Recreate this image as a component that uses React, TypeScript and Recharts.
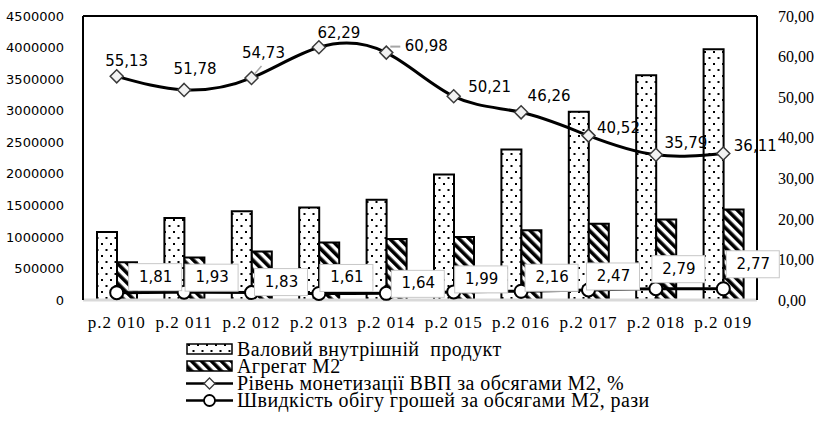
import React from "react";
import {
  Bar,
  ComposedChart,
  LabelList,
  Legend,
  Line,
  ReferenceLine,
  XAxis,
  YAxis,
} from "recharts";

// ВВП та М2 (млн грн), рівень монетизації (%), швидкість обігу (рази)
const years = ["р.2 010", "р.2 011", "р.2 012", "р.2 013", "р.2 014", "р.2 015", "р.2 016", "р.2 017", "р.2 018", "р.2 019"];
const gdp = [1079346, 1299991, 1404669, 1465198, 1586915, 1988544, 2385367, 2983882, 3560596, 3974564];
const m2 = [596300, 673600, 767600, 910100, 967600, 999300, 1104300, 1208000, 1276200, 1434900];
const monetization = [55.13, 51.78, 54.73, 62.29, 60.98, 50.21, 46.26, 40.52, 35.79, 36.11];
const velocity = [1.81, 1.93, 1.83, 1.61, 1.64, 1.99, 2.16, 2.47, 2.79, 2.77];
const leftTicks = [0, 500000, 1000000, 1500000, 2000000, 2500000, 3000000, 3500000, 4000000, 4500000];
const rightTicks = [0, 10, 20, 30, 40, 50, 60, 70];

// label offsets (px) from each point, as placed in the original
const monShift = [[10, -15], [11, -21], [12, -25], [20, -14], [40, -7], [36, -9], [28, -16], [30, -8], [30, -12], [32, -7]];
const velShift = [[39, -16], [28, -15], [30, -11], [28, -16], [32, -10], [28, -13], [31, -14], [25, -14], [23, -20], [30, -25]];

const SERIF = "'Liberation Serif', 'Times New Roman', serif";
const SANS = "'DejaVu Sans', Verdana, sans-serif";

const rows = years.map((year, i) => ({
  year,
  gdp: gdp[i],
  m2: m2[i],
  mon: monetization[i],
  vel: velocity[i],
}));

const fmt = (v: number) => v.toFixed(2).replace(".", ",");

const Patterns = ({ prefix }: { prefix: string }) => (
  <defs>
    <pattern id={`${prefix}-dots`} width="9" height="12" patternUnits="userSpaceOnUse">
      <rect width="9" height="12" fill="#fff" />
      <rect x="2" y="3" width="2" height="2" fill="#000" />
      <rect x="6.5" y="9" width="2" height="2" fill="#000" />
    </pattern>
    <pattern id={`${prefix}-hatch`} width="7" height="7" patternUnits="userSpaceOnUse" patternTransform="rotate(-45)">
      <rect width="7" height="7" fill="#fff" />
      <rect width="3.6" height="7" fill="#000" />
    </pattern>
  </defs>
);

const Diamond = (props: any) => {
  const { cx, cy, index } = props;
  if (cx == null || cy == null) return <g key={`d-${index}`} />;
  const s = 6.5;
  return (
    <path
      key={`d-${index}`}
      d={`M${cx},${cy - s} L${cx + s},${cy} L${cx},${cy + s} L${cx - s},${cy} Z`}
      fill="#f2f2f2"
      stroke="#3a3a3a"
      strokeWidth={1.5}
    />
  );
};

const Ring = (props: any) => {
  const { cx, cy, index } = props;
  if (cx == null || cy == null) return <g key={`c-${index}`} />;
  return <circle key={`c-${index}`} cx={cx} cy={cy} r={6.5} fill="#fff" stroke="#000" strokeWidth={2} />;
};

const MonLabel = (props: any) => {
  const { x, y, value, index } = props;
  const [dx, dy] = monShift[index];
  const tx = x + dx;
  const ty = y + dy;
  return (
    <g>
      {index === 2 && <line x1={x + 3} y1={y - 4} x2={x + 10} y2={y - 12} stroke="#a6a6a6" strokeWidth={1.5} />}
      {index === 4 && <line x1={x + 4} y1={y - 6} x2={x + 14} y2={y - 6} stroke="#a6a6a6" strokeWidth={2} />}
      <text x={tx} y={ty} textAnchor="middle" dominantBaseline="central" fontFamily={SANS} fontSize={15} fill="#000">
        {fmt(value)}
      </text>
    </g>
  );
};

const VelLabel = (props: any) => {
  const { x, y, value, index } = props;
  const [dx, dy] = velShift[index];
  const tx = x + dx;
  const ty = y + dy;
  return (
    <g>
      <rect x={tx - 27} y={ty - 13} width={53} height={27} fill="#fff" stroke="#c8c8c8" strokeWidth={1} />
      <text x={tx} y={ty} textAnchor="middle" dominantBaseline="central" fontFamily={SANS} fontSize={15} fill="#000">
        {fmt(value)}
      </text>
    </g>
  );
};

const legendItems = [
  { label: "Валовий внутрішній  продукт", kind: "dots" },
  { label: "Агрегат М2", kind: "hatch" },
  { label: "Рівень монетизації ВВП за обсягами М2, %", kind: "diamond" },
  { label: "Швидкість обігу грошей за обсягами М2, рази", kind: "circle" },
];

const LegendBox = () => (
  <div style={{ height: 90, paddingTop: 5, paddingLeft: 186, boxSizing: "border-box" }}>
    {legendItems.map((it, i) => (
      <div key={i} style={{ display: "flex", alignItems: "center", height: 17 }}>
        <svg width={48} height={17} style={{ flex: "none" }}>
          <Patterns prefix={`lg${i}`} />
          {it.kind === "dots" && <rect x={1} y={3} width={45} height={10} fill={`url(#lg${i}-dots)`} stroke="#000" strokeWidth={1.5} />}
          {it.kind === "hatch" && <rect x={1} y={3} width={45} height={10} fill={`url(#lg${i}-hatch)`} stroke="#000" strokeWidth={1.5} />}
          {it.kind === "diamond" && (
            <g>
              <line x1={0} y1={8.5} x2={47} y2={8.5} stroke="#000" strokeWidth={2.5} />
              <path d="M23.5,3 L29,8.5 L23.5,14 L18,8.5 Z" fill="#fff" stroke="#3a3a3a" strokeWidth={1.3} />
            </g>
          )}
          {it.kind === "circle" && (
            <g>
              <line x1={0} y1={8.5} x2={47} y2={8.5} stroke="#000" strokeWidth={2.5} />
              <circle cx={23.5} cy={8.5} r={5.5} fill="#fff" stroke="#000" strokeWidth={1.8} />
            </g>
          )}
        </svg>
        <span style={{ fontFamily: SERIF, fontSize: 20, lineHeight: "17px", marginLeft: 3, whiteSpace: "pre", color: "#000", letterSpacing: 0.4 }}>
          {it.label}
        </span>
      </div>
    ))}
  </div>
);

export default function App() {
  return (
    <div style={{ position: "absolute", left: 0, top: 0, width: 814, height: 426, background: "#fff" }}>
      <ComposedChart
        width={814}
        height={426}
        data={rows}
        margin={{ top: 16, right: 0, left: 0, bottom: 0 }}
        barGap={0}
        barCategoryGap="40%"
      >
        <Patterns prefix="ch" />
        <XAxis
          dataKey="year"
          height={36}
          tickLine={false}
          axisLine={{ stroke: "#d9d9d9", strokeWidth: 3 }}
          tickMargin={10}
          tick={{ fontFamily: SERIF, fontSize: 17, fill: "#000", letterSpacing: 1 }}
          interval={0}
        />
        <YAxis
          yAxisId="left"
          width={83}
          domain={[0, 4500000]}
          ticks={leftTicks}
          tickLine={false}
          axisLine={{ stroke: "#000", strokeWidth: 2 }}
          tickMargin={13}
          tick={{ fontFamily: SANS, fontSize: 13, fill: "#000" }}
          allowDataOverflow
        />
        <YAxis
          yAxisId="right"
          orientation="right"
          width={57}
          domain={[0, 70]}
          ticks={rightTicks}
          tickLine={false}
          axisLine={{ stroke: "#000", strokeWidth: 2 }}
          tickMargin={15}
          tickFormatter={(v: number) => fmt(v)}
          tick={{ fontFamily: SERIF, fontSize: 16, fill: "#000" }}
        />
        <ReferenceLine yAxisId="left" y={4500000} stroke="#000" strokeWidth={2} ifOverflow="visible" />
        <Bar yAxisId="left" dataKey="gdp" barSize={20} fill="url(#ch-dots)" stroke="#000" strokeWidth={2} isAnimationActive={false} />
        <Bar yAxisId="left" dataKey="m2" barSize={20} fill="url(#ch-hatch)" stroke="#000" strokeWidth={2} isAnimationActive={false} />
        <Line
          yAxisId="right"
          dataKey="vel"
          type="monotone"
          stroke="#000"
          strokeWidth={3}
          dot={Ring}
          activeDot={false}
          isAnimationActive={false}
        >
          <LabelList dataKey="vel" content={VelLabel} />
        </Line>
        <Line
          yAxisId="right"
          dataKey="mon"
          type="natural"
          stroke="#000"
          strokeWidth={3}
          dot={Diamond}
          activeDot={false}
          isAnimationActive={false}
        >
          <LabelList dataKey="mon" content={MonLabel} />
        </Line>
        <Legend verticalAlign="bottom" height={90} content={<LegendBox />} />
      </ComposedChart>
    </div>
  );
}
